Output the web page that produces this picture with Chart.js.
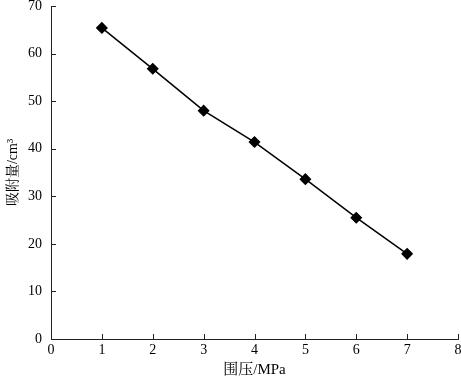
<!DOCTYPE html>
<html><head><meta charset="utf-8">
<script src="https://cdn.jsdelivr.net/npm/chart.js@4/dist/chart.umd.min.js"></script>
<style>html,body{margin:0;padding:0;background:#fff}#wrap{width:461px;height:379px}</style>
</head><body><div id="wrap"><canvas id="c" width="461" height="379"></canvas></div>
<script>
const pressure = [1, 2, 3, 4, 5, 6, 7];
const adsorption = [65.4, 56.8, 48.0, 41.4, 33.6, 25.5, 17.9];
const xTicks = [0, 1, 2, 3, 4, 5, 6, 7, 8];
const yTicks = [0, 10, 20, 30, 40, 50, 60, 70];
const xTitle = '围压/MPa';
const yTitle = '吸附量/cm³';

const FONT = "'Liberation Serif', 'Noto Serif CJK SC', 'Noto Sans CJK SC', serif";

const innerTicks = {
  id: 'innerTicks',
  afterDraw(chart) {
    const ctx = chart.ctx, a = chart.chartArea;
    const xs = chart.scales.x, ys = chart.scales.y;
    ctx.save();
    ctx.strokeStyle = '#222';
    ctx.lineWidth = 1;
    ctx.beginPath();
    xs.ticks.forEach(t => {
      const p = Math.round(xs.getPixelForValue(t.value)) + 0.5;
      ctx.moveTo(p, a.bottom); ctx.lineTo(p, a.bottom - 5);
    });
    ys.ticks.forEach(t => {
      const p = Math.round(ys.getPixelForValue(t.value)) + 0.5;
      ctx.moveTo(a.left, p); ctx.lineTo(a.left + 5, p);
    });
    ctx.stroke();
    ctx.restore();
  }
};

new Chart(document.getElementById('c'), {
  type: 'scatter',
  data: {
    datasets: [{
      data: pressure.map((x, i) => ({x, y: adsorption[i]})),
      showLine: true,
      borderColor: '#000',
      backgroundColor: '#000',
      borderWidth: 1.5,
      pointStyle: 'rectRot',
      pointRadius: 5,
      pointHoverRadius: 5,
      clip: false,
      tension: 0
    }]
  },
  options: {
    responsive: false,
    animation: false,
    events: [],
    layout: {autoPadding: false, padding: {left: 0, right: 3, top: 6, bottom: 0}},
    plugins: {legend: {display: false}, tooltip: {enabled: false}},
    scales: {
      x: {
        type: 'linear', min: 0, max: 8,
        afterBuildTicks: s => { s.ticks = xTicks.map(v => ({value: v})); },
        afterFit: s => { s.height = 40; s.paddingRight = 0; s.paddingLeft = 0; },
        border: {color: '#222', width: 1},
        grid: {display: false, drawTicks: false},
        ticks: {color: '#000', font: {family: FONT, size: 14}, padding: 3, maxRotation: 0},
        title: {display: true, text: xTitle, color: '#000', font: {family: FONT, size: 15}, padding: {top: 1, bottom: 0}}
      },
      y: {
        type: 'linear', min: 0, max: 70,
        afterBuildTicks: s => { s.ticks = yTicks.map(v => ({value: v})); },
        afterFit: s => { s.width = 51; s.paddingTop = 0; s.paddingBottom = 0; },
        border: {color: '#222', width: 1},
        grid: {display: false, drawTicks: false},
        ticks: {color: '#000', font: {family: FONT, size: 14}, padding: 9},
        title: {display: true, text: yTitle, color: '#000', font: {family: FONT, size: 14}, padding: {top: 5, bottom: 0}}
      }
    }
  },
  plugins: [innerTicks]
});
</script></body></html>
